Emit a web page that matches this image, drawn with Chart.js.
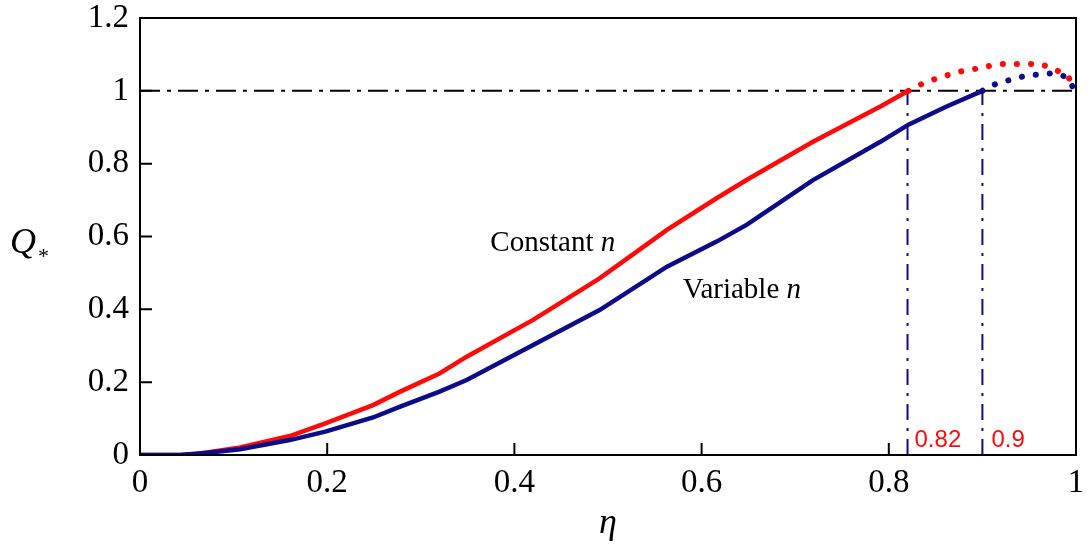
<!DOCTYPE html>
<html>
<head>
<meta charset="utf-8">
<script src="https://cdn.jsdelivr.net/npm/chart.js@4.4.0/dist/chart.umd.min.js"></script>
<style>
  body { margin: 0; background: #fff; }
  canvas { display: block; }
</style>
</head>
<body>
<canvas id="qChart" width="1089" height="548"></canvas>
<script>
// tick values
var xTicks = [0, 0.2, 0.4, 0.6, 0.8, 1];
var yTicks = [0, 0.2, 0.4, 0.6, 0.8, 1, 1.2];

// constant n (solid, up to eta = 0.82)
var etaConst = [0, 0.043, 0.061, 0.107, 0.160, 0.198, 0.249, 0.278, 0.320, 0.349, 0.420, 0.491, 0.563, 0.616, 0.648, 0.719, 0.791, 0.821];
var qConst   = [0, 0, 0.003, 0.021, 0.052, 0.087, 0.137, 0.174, 0.224, 0.270, 0.371, 0.485, 0.618, 0.705, 0.755, 0.860, 0.957, 1.0];

// constant n (dotted continuation)
var etaConstDot = [0.821, 0.837, 0.849, 0.863, 0.878, 0.892, 0.906, 0.921, 0.935, 0.949, 0.962, 0.976, 0.990, 0.998];
var qConstDot   = [1.0, 1.021, 1.032, 1.043, 1.054, 1.060, 1.068, 1.074, 1.074, 1.074, 1.074, 1.060, 1.044, 1.014];

// variable n (solid, up to eta = 0.9)
var etaVar = [0, 0.043, 0.072, 0.107, 0.160, 0.198, 0.249, 0.278, 0.320, 0.349, 0.420, 0.491, 0.563, 0.616, 0.648, 0.719, 0.791, 0.821, 0.860, 0.900];
var qVar   = [0, 0, 0.006, 0.016, 0.041, 0.064, 0.103, 0.133, 0.174, 0.206, 0.302, 0.398, 0.517, 0.586, 0.632, 0.755, 0.860, 0.907, 0.955, 1.0];

// variable n (dotted continuation)
var etaVarDot = [0.900, 0.906, 0.921, 0.935, 0.949, 0.962, 0.976, 0.990, 0.998];
var qVarDot   = [1.0, 1.011, 1.025, 1.033, 1.044, 1.044, 1.049, 1.038, 1.005];

// reference lines
var qLimit = 1;
var etaMarks = [0.82, 0.9];

function pts(xs, ys) {
    var out = [];
    for (var i = 0; i < xs.length; i++) {
        out.push({x: xs[i], y: ys[i]});
    }
    return out;
}

var red = "#ff0a0a";
var navy = "#0c0c8a";

var datasets = [
    { data: pts(etaVar, qVar), borderColor: navy, borderWidth: 4.5 },
    { data: pts(etaConst, qConst), borderColor: red, borderWidth: 4.5 },
    { data: pts(etaVarDot, qVarDot), borderColor: navy, borderWidth: 6, borderDash: [0.1, 14], borderCapStyle: "round" },
    { data: pts(etaConstDot, qConstDot), borderColor: red, borderWidth: 6, borderDash: [0.1, 14], borderCapStyle: "round" },
    { data: [{x: 0, y: qLimit}, {x: 1, y: qLimit}], borderColor: "#000", borderWidth: 2, borderDash: [20, 7, 4, 7] }
];
for (var k = 0; k < etaMarks.length; k++) {
    datasets.push({ data: [{x: etaMarks[k], y: 0}, {x: etaMarks[k], y: qLimit}], borderColor: navy, borderWidth: 2, borderDash: [16, 8, 3, 8] });
}
datasets.forEach(function(d) { d.pointRadius = 0; d.fill = false; d.tension = 0; });

var decorPlugin = {
    id: "decor",
    afterDraw: function(chart) {
        var ctx = chart.ctx;
        var a = chart.chartArea;
        var xs = chart.scales.x, ys = chart.scales.y;
        ctx.save();
        ctx.strokeStyle = "#000";
        ctx.lineWidth = 2;
        ctx.strokeRect(a.left, a.top, a.right - a.left, a.bottom - a.top);
        // inward tick marks
        ctx.beginPath();
        xTicks.forEach(function(v) {
            var px = xs.getPixelForValue(v);
            ctx.moveTo(px, a.bottom); ctx.lineTo(px, a.bottom - 12);
        });
        yTicks.forEach(function(v) {
            var py = ys.getPixelForValue(v);
            ctx.moveTo(a.left, py); ctx.lineTo(a.left + 12, py);
        });
        ctx.stroke();

        // curve labels
        ctx.fillStyle = "#000";
        ctx.textBaseline = "alphabetic";
        ctx.textAlign = "left";
        var drawLabel = function(word, x, y) {
            ctx.font = "29px 'Liberation Serif'";
            var w1 = ctx.measureText(word + " ").width;
            ctx.font = "italic 29px 'Liberation Serif'";
            var w2 = ctx.measureText("n").width;
            var px = xs.getPixelForValue(x) - (w1 + w2) / 2;
            var py = ys.getPixelForValue(y);
            ctx.font = "29px 'Liberation Serif'";
            ctx.fillText(word + " ", px, py);
            ctx.font = "italic 29px 'Liberation Serif'";
            ctx.fillText("n", px + w1, py);
        };
        drawLabel("Constant", 0.441, 0.56);
        drawLabel("Variable", 0.643, 0.43);

        // eta marks
        ctx.fillStyle = red;
        ctx.font = "24px 'Liberation Sans'";
        ctx.fillText("0.82", xs.getPixelForValue(etaMarks[0]) + 7, a.bottom - 8);
        ctx.fillText("0.9", xs.getPixelForValue(etaMarks[1]) + 9, a.bottom - 8);

        // axis titles
        ctx.fillStyle = "#000";
        ctx.font = "italic 36px 'Liberation Serif'";
        ctx.textAlign = "center";
        ctx.fillText("\u03B7", (a.left + a.right) / 2, 533);
        ctx.textAlign = "left";
        ctx.font = "italic 36px 'Liberation Serif'";
        ctx.fillText("Q", 10, 253);
        ctx.font = "22px 'Liberation Serif'";
        ctx.fillText("*", 38, 263);
        ctx.restore();
    }
};

function noPad(s) {
    s.paddingLeft = 0; s.paddingRight = 0; s.paddingTop = 0; s.paddingBottom = 0;
}

var chart = new Chart(document.getElementById("qChart"), {
    type: "line",
    data: { datasets: datasets },
    options: {
        responsive: false,
        animation: false,
        layout: { padding: { top: 18, right: 13, left: 0, bottom: 0 } },
        plugins: { legend: { display: false }, tooltip: { enabled: false } },
        scales: {
            x: {
                type: "linear", min: 0, max: 1,
                afterBuildTicks: function(s) { s.ticks = xTicks.map(function(v) { return {value: v}; }); },
                afterFit: function(s) { s.height = 93; noPad(s); },
                grid: { display: false, drawTicks: false },
                border: { display: false },
                ticks: { color: "#000", padding: 9, font: { family: "'Liberation Serif'", size: 33 },
                         callback: function(v) { return String(v); } }
            },
            y: {
                type: "linear", min: 0, max: 1.2,
                afterBuildTicks: function(s) { s.ticks = yTicks.map(function(v) { return {value: v}; }); },
                afterFit: function(s) { s.width = 140; noPad(s); },
                grid: { display: false, drawTicks: false },
                border: { display: false },
                ticks: { color: "#000", padding: 11, font: { family: "'Liberation Serif'", size: 33 },
                         callback: function(v) { return String(v); } }
            }
        }
    },
    plugins: [decorPlugin]
});
</script>
</body>
</html>
